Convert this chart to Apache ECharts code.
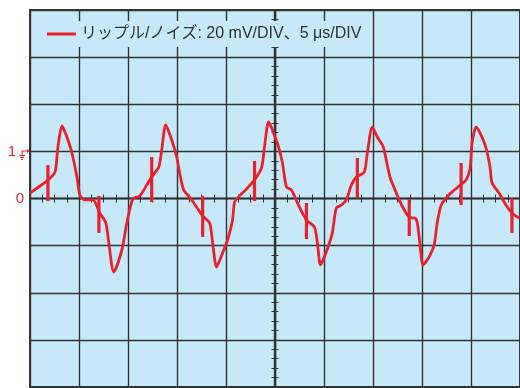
<!DOCTYPE html>
<html>
<head>
<meta charset="utf-8">
<script src="https://cdn.jsdelivr.net/npm/echarts@6/dist/echarts.min.js"></script>
<style>
  html, body { margin: 0; padding: 0; background: #ffffff; }
  #chart { width: 520px; height: 388px; }
</style>
</head>
<body>
<div id="chart"></div>
<script>
// Ripple/noise waveform: time in µs (5 µs/DIV), level in mV (20 mV/DIV)
const timeUs = [
  0.00, 1.02, 1.73, 2.55, 2.85, 3.26, 3.77, 4.28, 4.79, 5.09, 5.60, 6.42, 7.13, 7.74, 8.04, 8.55, 9.37, 9.88,
  10.49, 11.20, 11.91, 12.42, 13.14, 13.44, 13.85, 14.46, 14.97, 15.27, 15.68, 16.29, 17.00, 17.62, 18.33, 18.64,
  19.04, 19.65, 20.16, 20.67, 20.88, 21.38, 22.20, 22.91, 23.62, 23.93, 24.34, 24.74, 25.36, 25.76, 26.17, 26.68,
  27.29, 28.21, 29.02, 29.33, 29.63, 30.04, 30.55, 30.85, 31.26, 31.77, 32.28, 32.79, 33.30, 34.11, 34.42, 34.93,
  35.44, 36.05, 36.35, 36.76, 37.17, 37.68, 38.19, 38.70, 39.41, 39.71, 40.12, 40.73, 41.24, 41.55, 41.95, 42.46,
  43.07, 43.79, 44.50, 44.91, 45.11, 45.52, 46.03, 46.54, 46.94, 47.15, 47.86, 48.57, 49.18, 49.90
];
const rippleMv = [
  2.3, 5.3, 7.4, 11.2, 21.9, 30.8, 26.1, 19.3, 9.1, 1.5, -0.6, -0.6, -6.2, -10.4, -18.9, -31.2, -21.9, -10.4,
  -0.2, 1.1, 5.7, 9.1, 13.4, 20.6, 31.2, 24.8, 17.6, 10.8, 3.6, 0.6, -3.6, -7.4, -10.4, -18.9,
  -29.1, -23.1, -17.6, -9.1, -1.5, 1.1, 4.5, 7.9, 12.9, 21.9, 32.5, 29.1, 21.9, 15.1, 4.9, 3.6,
  -1.9, -9.1, -12.1, -18.9, -28.2, -24.8, -18.9, -14.6, -4.0, -2.8, -0.6, 5.7, 9.1, 11.2, 19.3, 30.3,
  26.1, 21.9, 16.3, 8.7, 4.5, -0.6, -4.9, -7.9, -8.7, -16.3, -28.2, -24.8, -19.7, -10.4, -2.8, 0.2,
  2.8, 5.3, 7.9, 12.9, 23.6, 30.3, 26.9, 21.4, 13.4, 6.6, 2.3, -2.8, -6.2, -8.3
];

// Switching spikes riding on the ripple: time, lower and upper level
const spikeTimeUs = [1.83, 7.03, 12.42, 17.62, 22.91, 28.21, 33.40, 38.70, 43.99, 49.18];
const spikeLowMv  = [-1.1, -14.6, -1.5, -16.3, -1.1, -17.2, 0.2, -15.9, -2.8, -14.6];
const spikeHighMv = [14.2, 1.1, 17.6, 1.1, 15.9, -1.9, 17.2, -0.2, 15.1, 0.2];

// Screen scale and level markers
const seriesName = 'リップル/ノイズ: 20 mV/DIV、5 μs/DIV';
const timeRange = [0, 50];
const timePerDiv = 5;
const levelRange = [-80, 80];
const levelPerDiv = 20;
const levelMarkers = { '0': '{zero|0}', '20': '{one|1}' };

const RED = '#e8212b';
const GRID_LINE = '#333333';
const SCREEN_BG = '#c7e8f8';

const waveData = timeUs.map((t, i) => [t, rippleMv[i]]);
const spikeData = spikeTimeUs.map((t, i) => [t, spikeLowMv[i], spikeHighMv[i]]);

// Probe ground marker: arrow pointing at the trace level plus ground sign
const groundPath = 'path://M8,1 L10.5,3 L8,5 Z M3,2.4 L8,2.4 L8,3.4 L3,3.4 Z M2.6,2.4 L3.6,2.4 L3.6,7.2 L2.6,7.2 Z ' +
  'M0.3,7 L5.9,7 L5.9,8 L0.3,8 Z M1.2,9 L5,9 L5,10 L1.2,10 Z M2.1,11 L4.1,11 L4.1,12 L2.1,12 Z';

const tickStyle = { color: GRID_LINE, width: 1 };

// Two x axes sit on the zero line: one ticks downward, the other upward
function centreTimeAxis(position, withGrid) {
  return {
    type: 'value', min: timeRange[0], max: timeRange[1], interval: timePerDiv,
    position: position,
    axisLine: { show: true, onZero: true, onZeroAxisIndex: 0, lineStyle: { color: GRID_LINE, width: 1.4 } },
    axisTick: { show: true, length: 4, lineStyle: tickStyle },
    minorTick: { show: true, splitNumber: 4, length: 4, lineStyle: tickStyle },
    axisLabel: { show: false },
    splitLine: { show: withGrid, lineStyle: { color: GRID_LINE, width: 1.4 } }
  };
}

// Two y axes pulled to the screen centre: one ticks left, the other right
function centreLevelAxis(position) {
  return {
    type: 'value', min: levelRange[0], max: levelRange[1], interval: levelPerDiv,
    position: position, offset: -245.5,
    axisLine: { show: true, onZero: false, lineStyle: { color: GRID_LINE, width: 1.4 } },
    axisTick: { show: true, length: 4, lineStyle: tickStyle },
    minorTick: { show: true, splitNumber: 5, length: 4, lineStyle: tickStyle },
    axisLabel: { show: false },
    splitLine: { show: false }
  };
}

const chart = echarts.init(document.getElementById('chart'), null, { renderer: 'canvas' });

chart.setOption({
  animation: false,
  backgroundColor: '#ffffff',
  grid: {
    left: 30, top: 10, width: 491, height: 377,
    show: true, backgroundColor: SCREEN_BG, borderColor: '#3a3a3a', borderWidth: 2
  },
  legend: {
    data: [{ name: seriesName, icon: 'rect' }],
    left: 36, top: 21,
    padding: [5, 9, 5, 11],
    itemWidth: 29, itemHeight: 3,
    backgroundColor: SCREEN_BG,
    textStyle: {
      fontSize: 16, color: '#333333', lineHeight: 15,
      fontFamily: '"Liberation Sans", "Noto Sans CJK JP", sans-serif'
    }
  },
  xAxis: [centreTimeAxis('bottom', true), centreTimeAxis('top', false)],
  yAxis: [
    {
      type: 'value', min: levelRange[0], max: levelRange[1], interval: levelPerDiv,
      position: 'left',
      axisLine: { show: false, onZero: false },
      axisTick: { show: false },
      axisLabel: {
        show: true, margin: 6,
        formatter: v => levelMarkers[String(v)] || '',
        rich: {
          zero: { color: RED, fontSize: 15, fontFamily: '"Liberation Sans", Arial, sans-serif' },
          one: { color: RED, fontSize: 15, fontFamily: '"Liberation Sans", Arial, sans-serif', padding: [0, 8, 0, 0] }
        }
      },
      splitLine: { show: true, lineStyle: { color: GRID_LINE, width: 1.4 } }
    },
    centreLevelAxis('left'),
    centreLevelAxis('right')
  ],
  series: [
    {
      name: seriesName,
      type: 'line',
      data: waveData,
      showSymbol: false,
      symbol: 'none',
      smooth: 0.25,
      clip: false,
      lineStyle: { color: RED, width: 2.8 },
      itemStyle: { color: RED },
      markPoint: {
        silent: true,
        symbol: groundPath,
        symbolSize: [10.2, 11],
        symbolOffset: [-5.6, 3.2],
        itemStyle: { color: RED },
        label: { show: false },
        data: [{ coord: [timeRange[0], levelPerDiv] }]
      },
      z: 3
    },
    {
      name: 'spikes',
      type: 'custom',
      data: spikeData,
      renderItem: (params, api) => {
        const p0 = api.coord([api.value(0), api.value(1)]);
        const p1 = api.coord([api.value(0), api.value(2)]);
        return {
          type: 'line',
          shape: { x1: p0[0], y1: p0[1], x2: p1[0], y2: p1[1] },
          style: { stroke: RED, lineWidth: 3.2, lineCap: 'butt' }
        };
      },
      z: 3
    }
  ]
});
</script>
</body>
</html>
